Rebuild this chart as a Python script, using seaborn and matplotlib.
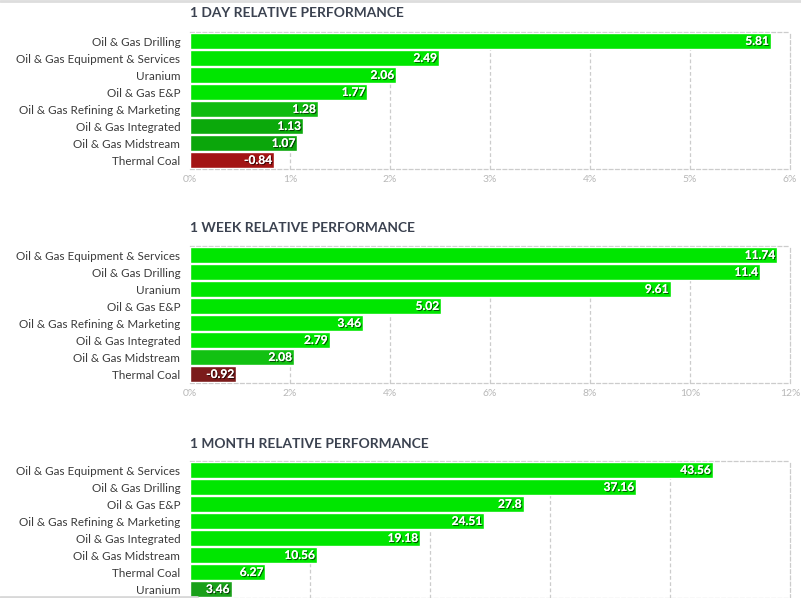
import matplotlib
matplotlib.use("Agg")
import matplotlib.pyplot as plt
import matplotlib.patheffects as pe
from matplotlib.lines import Line2D
import seaborn as sns
import pandas as pd

sns.set_theme(style="white")
plt.rcParams['font.family'] = ['Lato', 'DejaVu Sans']

# ---- data ----
day_title = "1 DAY RELATIVE PERFORMANCE"
day_cats = ["Oil & Gas Drilling", "Oil & Gas Equipment & Services", "Uranium", "Oil & Gas E&P",
            "Oil & Gas Refining & Marketing", "Oil & Gas Integrated", "Oil & Gas Midstream", "Thermal Coal"]
day_vals = [5.81, 2.49, 2.06, 1.77, 1.28, 1.13, 1.07, -0.84]
day_colors = ["#00e600", "#00e600", "#00e600", "#00e600", "#10bb10", "#0ba90b", "#0ba60b", "#a31414"]
day_ticks = [0, 1, 2, 3, 4, 5, 6]

week_title = "1 WEEK RELATIVE PERFORMANCE"
week_cats = ["Oil & Gas Equipment & Services", "Oil & Gas Drilling", "Uranium", "Oil & Gas E&P",
             "Oil & Gas Refining & Marketing", "Oil & Gas Integrated", "Oil & Gas Midstream", "Thermal Coal"]
week_vals = [11.74, 11.4, 9.61, 5.02, 3.46, 2.79, 2.08, -0.92]
week_colors = ["#00e600", "#00e600", "#00e600", "#00e600", "#00e600", "#00e600", "#12c112", "#7b1b1b"]
week_ticks = [0, 2, 4, 6, 8, 10, 12]

month_title = "1 MONTH RELATIVE PERFORMANCE"
month_cats = ["Oil & Gas Equipment & Services", "Oil & Gas Drilling", "Oil & Gas E&P",
              "Oil & Gas Refining & Marketing", "Oil & Gas Integrated", "Oil & Gas Midstream",
              "Thermal Coal", "Uranium"]
month_vals = [43.56, 37.16, 27.8, 24.51, 19.18, 10.56, 6.27, 3.46]
month_colors = ["#00e600", "#00e600", "#00e600", "#00e600", "#00e600", "#00e600", "#00e600", "#1aa01a"]
month_ticks = [0, 10, 20, 30, 40, 50]

W, H = 801, 598
fig = plt.figure(figsize=(W / 100, H / 100), dpi=100)
fig.patch.set_facecolor("white")

# (title, cats, values, colours, ticks, axes top px, axes bottom px, title centre px, show tick labels)
panels = [
    (day_title, day_cats, day_vals, day_colors, day_ticks, 32, 169, 13, True),
    (week_title, week_cats, week_vals, week_colors, week_ticks, 246, 383, 228.5, True),
    (month_title, month_cats, month_vals, month_colors, month_ticks, 461, 598, 443.5, False),
]

grid_col = "#cccccc"
for title, cats, vals, cols, ticks, top, bot, ty, show_ticks in panels:
    ax = fig.add_axes([190 / W, 1 - bot / H, 600 / W, (bot - top) / H])
    df = pd.DataFrame({"cat": cats, "val": vals})
    df["length"] = df["val"].abs()
    sns.barplot(data=df, x="length", y="cat", hue="cat", palette=cols, legend=False,
                orient="h", width=0.94, saturation=1, ax=ax, zorder=3)
    ax.set_xlim(ticks[0], ticks[-1])
    ax.set_ylim(len(cats) - 0.5, -0.55)
    ax.set_xticks(ticks)
    if show_ticks:
        ax.set_xticklabels([f"{t}%" for t in ticks], color="#b8b8b8", fontsize=7.5)
    else:
        ax.set_xticklabels([])
    ax.tick_params(axis="x", length=0, pad=4)
    ax.tick_params(axis="y", length=0, pad=7, labelsize=8.4, labelcolor="#3a3a3a")
    ax.set_xlabel("")
    ax.set_ylabel("")
    for t in ticks[1:-1]:
        ax.axvline(t, color=grid_col, lw=0.9, ls=(0, (3, 2)), zorder=1)
    for side in ["top", "right", "bottom"]:
        ax.spines[side].set_visible(True)
        ax.spines[side].set_color(grid_col)
        ax.spines[side].set_linewidth(0.9)
        ax.spines[side].set_linestyle((0, (3, 2)))
    ax.spines["left"].set_visible(False)
    span = ticks[-1] - ticks[0]
    for i, (v, length) in enumerate(zip(df["val"], df["length"])):
        ax.text(length - span * 0.0035, i, f"{v}", ha="right", va="center",
                color="white", fontsize=8.6, fontweight="bold", zorder=5,
                path_effects=[pe.withSimplePatchShadow(offset=(0.8, -0.8), shadow_rgbFace="black", alpha=0.6),
                              pe.Normal()])
    fig.text(190 / W, 1 - ty / H, title, ha="left", va="center", fontsize=9.9,
             fontweight="bold", color="#3b4250")

# screenshot chrome lines
fig.add_artist(Line2D([0, 1], [1 - 1 / H, 1 - 1 / H], color="#dddddd", lw=2))
fig.add_artist(Line2D([0, 197 / W], [1 - 596.5 / H, 1 - 596.5 / H], color="#d8d8d8", lw=2))

fig.savefig("out.png", dpi=100, facecolor="white")
